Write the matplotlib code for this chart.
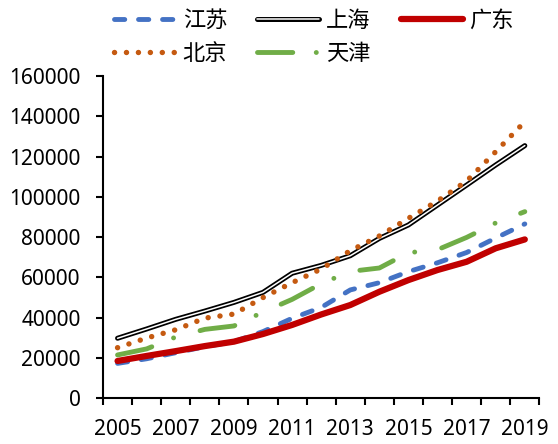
import matplotlib
matplotlib.use("Agg")
import matplotlib.pyplot as plt
import matplotlib.patheffects as pe
import numpy as np

plt.rcParams['font.family'] = ['Noto Sans', 'Noto Sans CJK SC', 'DejaVu Sans']
plt.rcParams['lines.scale_dashes'] = False

years = list(range(2005, 2020))
jiangsu = [17200, 19500, 22500, 25500, 28000, 33000, 39600, 45000, 53700, 57300, 62800, 67200, 72300, 79500, 86500]
shanghai = [29700, 34300, 39100, 43200, 47500, 52500, 62000, 65900, 70700, 79300, 86000, 95900, 105800, 115800, 125400]
guangdong = [18400, 20900, 23300, 25800, 28000, 31800, 36300, 41500, 46200, 52800, 58600, 63600, 67700, 74400, 78800]
beijing = [25000, 29800, 33900, 39700, 41700, 49900, 57300, 64100, 73200, 80500, 89300, 97900, 107800, 122400, 137300]
tianjin = [21400, 24400, 30300, 34100, 35800, 42700, 49000, 56800, 62900, 64600, 72200, 73700, 79800, 87000, 92600]
labels = ['江苏', '上海', '广东', '北京', '天津']

x = np.arange(len(years))

fig = plt.figure(figsize=(5.58, 4.44), dpi=100)
ax = fig.add_axes([0.1846, 0.1036, 0.782, 0.7252])

l_js, = ax.plot(x, jiangsu, color='#4472C4', lw=3.5, dashes=(7.4, 9.9),
                dash_capstyle='round', solid_capstyle='round', label=labels[0])
l_sh, = ax.plot(x, shanghai, color='white', lw=1.1, solid_capstyle='round',
                solid_joinstyle='round', label=labels[1],
                path_effects=[pe.Stroke(linewidth=3.6, foreground='black',
                                        capstyle='round', joinstyle='round'),
                              pe.Normal()])
l_gd, = ax.plot(x, guangdong, color='#C00000', lw=4.5, solid_capstyle='round',
                solid_joinstyle='round', label=labels[2])
l_bj, = ax.plot(x, beijing, color='#C55A11', lw=3.9, dashes=(0.05, 8.55),
                dash_capstyle='round', label=labels[3])
l_tj, = ax.plot(x, tianjin, color='#70AD47', lw=3.5, dashes=(25.4, 16.9, 0.05, 19.75),
                dash_capstyle='round', label=labels[4])

ax.set_xlim(-0.5, len(years) - 0.5)
ax.set_ylim(0, 160000)
ax.set_yticks(np.arange(0, 160001, 20000))
ax.set_xticks(x[::2])
ax.set_xticklabels([str(y) for y in years[::2]])
ax.set_xticks(np.arange(-0.5, len(years), 1.0), minor=True)

for s in ['top', 'right']:
    ax.spines[s].set_visible(False)
for s in ['left', 'bottom']:
    ax.spines[s].set_linewidth(1.5)
    ax.spines[s].set_color('black')

ax.tick_params(axis='y', direction='out', length=5, width=1.5, pad=11, labelsize=15)
ax.tick_params(axis='x', which='major', length=0, pad=15, labelsize=15)
ax.tick_params(axis='x', which='minor', direction='out', length=5, width=1.5)

handles = [l_js, l_bj, l_sh, l_tj, l_gd]
leg = fig.legend(handles, [h.get_label() for h in handles], ncol=3,
                 loc='upper left', bbox_to_anchor=(0.168, 1.025), frameon=False,
                 prop={'family': ['Noto Sans CJK SC', 'DejaVu Sans'], 'size': 16},
                 handlelength=2.8, handletextpad=0.3, columnspacing=1.35,
                 labelspacing=0.45)

fig.savefig('out.png', dpi=100)
